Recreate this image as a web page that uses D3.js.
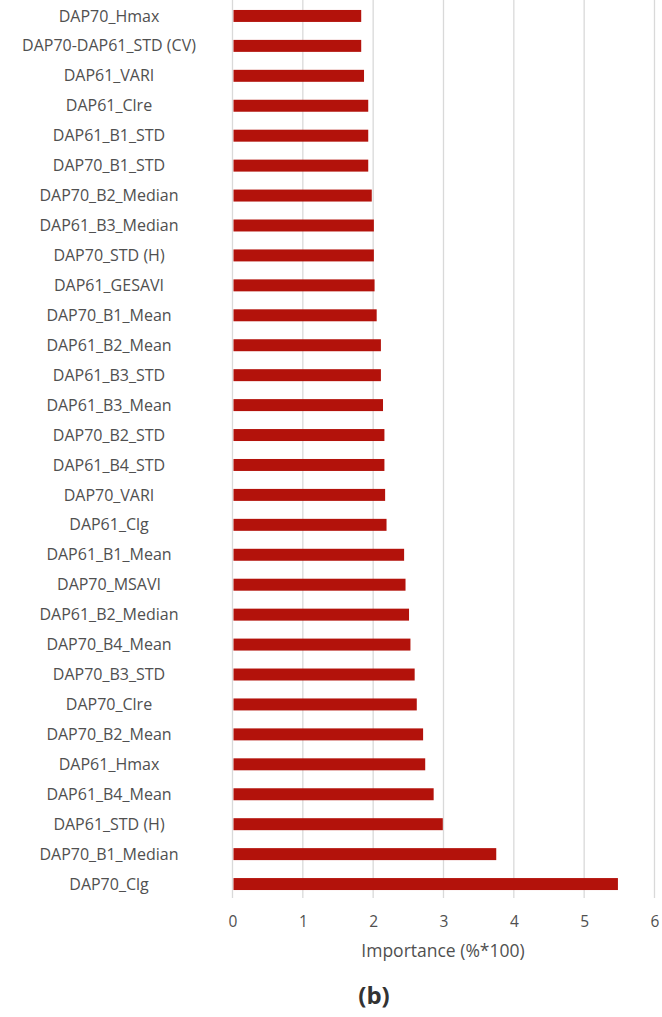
<!DOCTYPE html>
<html>
<head>
<meta charset="utf-8">
<script src="https://cdn.jsdelivr.net/npm/d3@7/dist/d3.min.js"></script>
<style>
  html, body { margin: 0; padding: 0; background: #ffffff; }
  svg { display: block; }
  text { font-family: "Open Sans", "Noto Sans", sans-serif; }
</style>
</head>
<body>
<div id="chart"></div>
<script>
// Feature names, listed top to bottom
const features = [
  "DAP70_Hmax", "DAP70-DAP61_STD (CV)", "DAP61_VARI", "DAP61_Clre",
  "DAP61_B1_STD", "DAP70_B1_STD", "DAP70_B2_Median", "DAP61_B3_Median",
  "DAP70_STD (H)", "DAP61_GESAVI", "DAP70_B1_Mean", "DAP61_B2_Mean",
  "DAP61_B3_STD", "DAP61_B3_Mean", "DAP70_B2_STD", "DAP61_B4_STD",
  "DAP70_VARI", "DAP61_Clg", "DAP61_B1_Mean", "DAP70_MSAVI",
  "DAP61_B2_Median", "DAP70_B4_Mean", "DAP70_B3_STD", "DAP70_Clre",
  "DAP70_B2_Mean", "DAP61_Hmax", "DAP61_B4_Mean", "DAP61_STD (H)",
  "DAP70_B1_Median", "DAP70_Clg"
];

// Importance (%*100) for each feature
const importance = [
  1.83, 1.83, 1.87, 1.93,
  1.93, 1.93, 1.98, 2.01,
  2.01, 2.02, 2.05, 2.11,
  2.11, 2.14, 2.16, 2.16,
  2.17, 2.19, 2.44, 2.46,
  2.51, 2.53, 2.59, 2.62,
  2.71, 2.74, 2.86, 2.99,
  3.75, 5.48
];

const xTicks = [0, 1, 2, 3, 4, 5, 6];
const xTitle = "Importance (%*100)";
const panelLabel = "(b)";

const W = 662, H = 1017;
const plot = { left: 232.5, right: 654.5, top: 0, bottom: 898 };

const data = features.map((f, i) => ({ name: f, value: importance[i] }));

const svg = d3.select("#chart").append("svg")
  .attr("width", W).attr("height", H);

const x = d3.scaleLinear().domain([0, 6]).range([plot.left, plot.right]);
const y = d3.scaleBand().domain(features).range([-8, 908])
  .paddingInner(0.6).paddingOuter(0.6);

// vertical gridlines
svg.append("g").selectAll("line").data(xTicks).join("line")
  .attr("x1", d => x(d)).attr("x2", d => x(d))
  .attr("y1", plot.top).attr("y2", plot.bottom)
  .attr("stroke", "#d9d9d9").attr("stroke-width", 1.3);

// bars
svg.append("g").selectAll("rect").data(data).join("rect")
  .attr("x", x(0) + 1)
  .attr("y", d => y(d.name))
  .attr("width", d => x(d.value) - x(0) - 1)
  .attr("height", y.bandwidth())
  .attr("fill", "#b3120b");

// category labels
svg.append("g").selectAll("text").data(data).join("text")
  .attr("x", 109)
  .attr("y", d => y(d.name) + y.bandwidth() / 2)
  .attr("dy", "0.35em")
  .attr("text-anchor", "middle")
  .attr("font-size", 16)
  .attr("fill", "#505050")
  .text(d => d.name);

// x axis tick labels
const xAxis = d3.axisBottom(x).tickValues(xTicks).tickSize(0).tickPadding(0)
  .tickFormat(d3.format("d"));
const gx = svg.append("g").attr("transform", `translate(0, ${916})`).call(xAxis);
gx.select(".domain").remove();
gx.selectAll("text")
  .attr("font-family", "\"Open Sans\", sans-serif")
  .attr("font-size", 15.5)
  .attr("fill", "#505050")
  .attr("dy", "0.35em")
  .attr("y", 6);

// axis title
svg.append("text")
  .attr("x", 443).attr("y", 951).attr("dy", "0.35em")
  .attr("text-anchor", "middle")
  .attr("font-size", 17.5)
  .attr("fill", "#505050")
  .text(xTitle);

// panel label
svg.append("text")
  .attr("x", 374).attr("y", 996).attr("dy", "0.35em")
  .attr("text-anchor", "middle")
  .attr("font-size", 24)
  .attr("font-weight", "bold")
  .attr("fill", "#333333")
  .text(panelLabel);
</script>
</body>
</html>
